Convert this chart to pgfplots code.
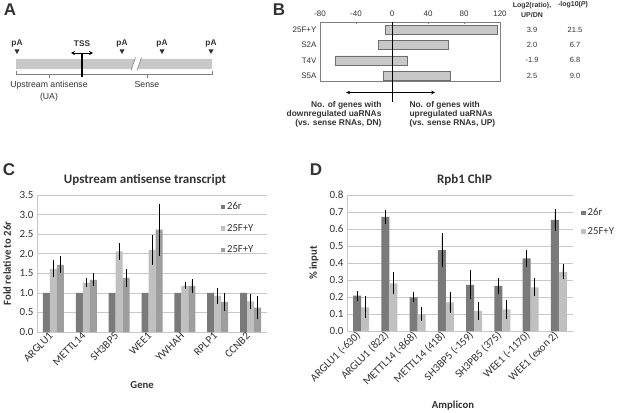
\documentclass[border=0pt]{standalone}
\usepackage{pgfplots}
\pgfplotsset{compat=1.18}
\usepackage{fontspec}
\setmainfont{Liberation Sans}
\newfontfamily\calib{Carlito}
\usetikzlibrary{arrows.meta}

\definecolor{barB}{HTML}{C8C8C8}
\definecolor{edgeB}{HTML}{6E6E6E}
\definecolor{dk}{HTML}{7A7A7A}
\definecolor{lt}{HTML}{C0C0C0}
\definecolor{md}{HTML}{9E9E9E}
\definecolor{gridc}{HTML}{C8C8C8}
\definecolor{txt}{HTML}{333333}

\pgfplotsset{
  sq legend/.style={legend image code/.code={\fill[#1] (0pt,-2.3pt) rectangle (4.6pt,2.3pt);}},
  excel/.style={
    scale only axis,
    anchor=south west,
    ymajorgrids, grid style={gridc, line width=0.6pt},
    axis x line*=bottom, axis y line*=left,
    axis line style={gridc, line width=0.6pt, -},
    major tick length=0pt,
    ticklabel style={font=\calib\fontsize{11}{11}\selectfont, text=txt},
    xticklabel style={rotate=45, anchor=east},
    label style={font=\calib\bfseries\fontsize{10.7}{10.7}\selectfont, text=txt},
    title style={font=\calib\bfseries\fontsize{13}{13}\selectfont, text=txt, anchor=center},
    legend style={draw=none, fill=none, anchor=north west, inner sep=0pt,
      font=\calib\fontsize{10.7}{10.7}\selectfont, text=txt, legend cell align=left},
    error bars/error bar style={black, line width=0.5pt},
    error bars/error mark options={black, mark size=2.5pt, line width=0.5pt},
    clip=false,
  }
}

\begin{document}
\begin{tikzpicture}
\path (0pt,0pt) rectangle (617pt,412pt);
\begin{pgfinterruptboundingbox}

\begin{scope}[x=1pt, y=-1pt, yshift=412pt]
% ---------------- panel letters
\node[font=\bfseries\fontsize{17}{17}\selectfont, text=txt] at (10,10) {A};
\node[font=\bfseries\fontsize{17}{17}\selectfont, text=txt] at (279,10) {B};
\node[font=\bfseries\fontsize{17}{17}\selectfont, text=txt] at (9,170) {C};
\node[font=\bfseries\fontsize{17}{17}\selectfont, text=txt] at (316,170) {D};

% ---------------- panel A (schematic)
\fill[barB] (16,59) rectangle (212,69);
\fill[white] (131,70.5) -- (135.5,57.5) -- (141.5,57.5) -- (137,70.5) -- cycle;
\draw[gray, line width=0.6pt] (131,70.5) -- (135.5,57.5);
\draw[gray, line width=0.6pt] (137,70.5) -- (141.5,57.5);
\draw[gray, line width=0.5pt] (16,71) -- (16,74.5) -- (212,74.5) -- (212,71);
\draw[gray, line width=0.5pt] (49,74.5) -- (49,78);
\draw[gray, line width=0.5pt] (147,74.5) -- (147,78);
\draw[black, line width=1.2pt] (82,77) -- (82,53);
\draw[black, line width=0.8pt, {Stealth[length=4pt,width=4pt]}-{Stealth[length=4pt,width=4pt]}] (71,53) -- (93,53);
\node[font=\bfseries\fontsize{8.3}{8.3}\selectfont, text=txt] at (82,44) {TSS};
\foreach \x in {17,122,162,211} {
  \node[font=\bfseries\fontsize{8.3}{8.3}\selectfont, text=txt] at (\x,44) {pA};
  \fill[txt] (\x-2.5,49.5) -- (\x+2.5,49.5) -- (\x,54) -- cycle;
}
\node[font=\fontsize{8.7}{12}\selectfont, text=txt, align=center] at (49,91) {Upstream antisense\\(UA)};
\node[font=\fontsize{8.7}{8.7}\selectfont, text=txt] at (147,85) {Sense};

% ---------------- panel B texts
\node[anchor=east, align=right, font=\bfseries\fontsize{8.4}{8.9}\selectfont, text=txt] at (385,114.5)
  {No. of genes with\\downregulated uaRNAs\\(vs. sense RNAs, DN)};
\node[anchor=west, align=left, font=\bfseries\fontsize{8.4}{8.9}\selectfont, text=txt] at (406,114.5)
  {No. of genes with\\upregulated uaRNAs\\(vs. sense RNAs, UP)};
\node[align=center, font=\bfseries\fontsize{7}{10}\selectfont, text=txt] at (532,10) {Log2(ratio),\\UP/DN};
\node[font=\bfseries\fontsize{7}{7}\selectfont, text=txt] at (573,5) {-log10(\textit{P})};
\foreach \v/\w/\y in {3.9/21.5/30, 2.0/6.7/45, -1.9/6.8/60, 2.5/9.0/76} {
  \node[font=\fontsize{7.5}{7.5}\selectfont, text=txt] at (532,\y) {\v};
  \node[font=\fontsize{7.5}{7.5}\selectfont, text=txt] at (575,\y) {\w};
}
\end{scope}

% ---------------- panel B
\begin{axis}[at={(320pt,331pt)}, anchor=south west, scale only axis,
  width=180pt, height=59pt,
  xmin=-80, xmax=120, ymin=-0.35, ymax=3.5,
  xtick={-80,-40,0,40,80,120}, xticklabels={-80,-40,0,40,80,120},
  xtick pos=right, xticklabel pos=right,
  tick align=inside, major tick length=2pt,
  ytick={0,1,2,3}, yticklabels={S5A,T4V,S2A,25F+Y},
  ytick style={draw=none},
  axis line style={gray, line width=0.6pt}, xtick style={gray},
  ticklabel style={font=\fontsize{8}{8}\selectfont, text=txt},
  xticklabel style={yshift=2pt},
  clip=false]
\addplot[xbar, bar width=9pt, bar shift=0pt, fill=barB, draw=edgeB, line width=0.6pt]
  coordinates {(117,3) (62,2) (17,1) (65,0)};
\addplot[xbar, bar width=9pt, bar shift=0pt, fill=barB, draw=edgeB, line width=0.6pt]
  coordinates {(-7,3) (-15.5,2) (-63,1) (-10,0)};
\draw[black, line width=0.6pt] (axis cs:0,3.5) -- (axis cs:0,-1.75);
\draw[black, line width=0.6pt, {Stealth[length=4pt,width=3.5pt]}-{Stealth[length=4pt,width=3.5pt]}]
  (axis cs:-51,-1.1) -- (axis cs:48,-1.1);
\end{axis}

% ---------------- panel C
\begin{axis}[excel, at={(37pt,80pt)},
  width=230pt, height=137pt,
  ymin=0, ymax=3.5, ytick={0,0.5,1,1.5,2,2.5,3,3.5},
  yticklabels={0.0,0.5,1.0,1.5,2.0,2.5,3.0,3.5},
  xmin=-0.5, xmax=6.5, xtick={0,1,2,3,4,5,6},
  xticklabels={ARGLU1,METTL14,SH3BP5,WEE1,YWHAH,RPLP1,CCNB2},
  ybar=0pt, bar width=7pt,
  title={Upstream antisense transcript},
  title style={at={(axis description cs:0.47,1.065)}},
  xlabel={Gene}, xlabel style={at={(axis description cs:0.457,-0.387)}, anchor=center},
  ylabel={Fold relative to 26r}, ylabel style={at={(axis description cs:-0.13,0.5)}, anchor=center},
  legend style={at={(rel axis cs:0.797,0.96)}, row sep=9pt},
]
\addplot[fill=dk, draw=none, sq legend] coordinates {(0,1) (1,1) (2,1) (3,1) (4,1) (5,1) (6,1)};
\addplot[fill=lt, draw=none, sq legend, error bars/.cd, y dir=both, y explicit] coordinates {
  (0,1.615) +- (0,0.15) (1,1.264) +- (0,0.045) (2,2.06) +- (0,0.145)
  (3,2.10) +- (0,0.315) (4,1.18) +- (0,0.03) (5,0.92) +- (0,0.15) (6,0.78) +- (0,0.135)};
\addplot[fill=md, draw=none, sq legend, error bars/.cd, y dir=both, y explicit] coordinates {
  (0,1.718) +- (0,0.15) (1,1.333) +- (0,0.1) (2,1.38) +- (0,0.16)
  (3,2.615) +- (0,0.6) (4,1.18) +- (0,0.115) (5,0.77) +- (0,0.16) (6,0.625) +- (0,0.24)};
\legend{26r,25F+Y,25F+Y}
\end{axis}

% ---------------- panel D
\begin{axis}[excel, at={(347pt,81pt)},
  width=226pt, height=136pt,
  ymin=0, ymax=0.8, ytick={0,0.1,0.2,0.3,0.4,0.5,0.6,0.7,0.8},
  yticklabels={0.0,0.1,0.2,0.3,0.4,0.5,0.6,0.7,0.8},
  xmin=-0.5, xmax=7.5, xtick={0,1,2,3,4,5,6,7},
  xticklabels={ARGLU1 (-630),ARGLU1 (822),METTL14 (-868),METTL14 (418),SH3BP5 (-159),SH3PB5 (375),WEE1 (-1170),WEE1 (exon 2)},
  ybar=0pt, bar width=8pt,
  title={Rpb1 ChIP},
  title style={at={(axis description cs:0.52,1.065)}},
  xlabel={Amplicon}, xlabel style={at={(axis description cs:0.469,-0.551)}, anchor=center},
  ylabel={\% input}, ylabel style={at={(axis description cs:-0.146,0.5)}, anchor=center},
  legend style={at={(rel axis cs:1.035,0.915)}, row sep=6pt},
]
\addplot[fill=dk, draw=none, sq legend, error bars/.cd, y dir=both, y explicit] coordinates {
  (0,0.208) +- (0,0.014) (1,0.672) +- (0,0.025) (2,0.198) +- (0,0.015) (3,0.476) +- (0,0.085)
  (4,0.272) +- (0,0.07) (5,0.265) +- (0,0.035) (6,0.427) +- (0,0.037) (7,0.653) +- (0,0.048)};
\addplot[fill=lt, draw=none, sq legend, error bars/.cd, y dir=both, y explicit] coordinates {
  (0,0.139) +- (0,0.05) (1,0.28) +- (0,0.05) (2,0.10) +- (0,0.027) (3,0.169) +- (0,0.046)
  (4,0.118) +- (0,0.04) (5,0.127) +- (0,0.041) (6,0.257) +- (0,0.038) (7,0.348) +- (0,0.03)};
\legend{26r,25F+Y}
\end{axis}
\end{pgfinterruptboundingbox}
\end{tikzpicture}
\end{document}
